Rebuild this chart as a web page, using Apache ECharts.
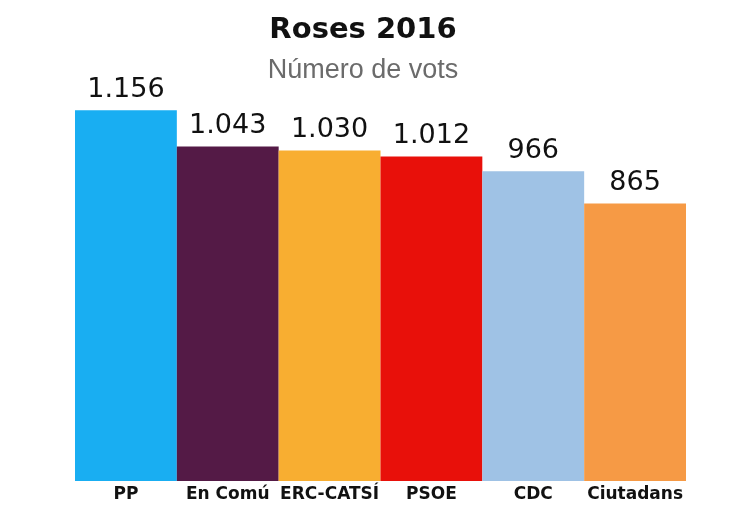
<!DOCTYPE html>
<html>
<head>
<meta charset="utf-8">
<script src="https://cdn.jsdelivr.net/npm/echarts@6/dist/echarts.min.js"></script>
<style>
  html, body { margin: 0; padding: 0; background: #fff; }
  #chart { width: 752px; height: 506px; }
</style>
</head>
<body>
<div id="chart"></div>
<script>
  // prettier-ignore
  let partits = ['PP', 'En Comú', 'ERC-CATSÍ', 'PSOE', 'CDC', 'Ciutadans'];
  // prettier-ignore
  let vots = [1156, 1043, 1030, 1012, 966, 865];
  // prettier-ignore
  let colors = ['#19aef2', '#541a46', '#f8ae31', '#e8100a', '#9fc2e5', '#f69a45'];

  function punts(v) {
    return String(v).replace(/\B(?=(\d{3})+(?!\d))/g, '.');
  }

  let chart = echarts.init(document.getElementById('chart'));
  let option = {
    animation: false,
    title: {
      text: 'Roses 2016',
      subtext: 'Número de vots',
      left: 358,
      textAlign: 'center',
      top: 11,
      itemGap: 12,
      textStyle: {
        fontFamily: 'DejaVu Sans',
        fontWeight: 'bold',
        fontSize: 29,
        color: '#111',
      },
      subtextStyle: {
        fontFamily: 'Liberation Sans',
        fontSize: 27,
        color: '#6b6b6b',
      },
    },
    grid: {
      left: 75,
      right: 66,
      top: 64,
      bottom: 25,
    },
    xAxis: {
      type: 'category',
      data: partits,
      axisLine: { show: false },
      axisTick: { show: false },
      axisLabel: {
        margin: 5,
        fontFamily: 'DejaVu Sans',
        fontWeight: 'bold',
        fontSize: 17,
        color: '#111',
        interval: 0,
      },
    },
    yAxis: {
      type: 'value',
      min: 0,
      max: 1300,
      show: false,
      splitLine: { show: false },
    },
    series: [
      {
        type: 'bar',
        barCategoryGap: 0,
        data: vots.map(function (v, i) {
          return { value: v, itemStyle: { color: colors[i] } };
        }),
        label: {
          show: true,
          position: 'top',
          distance: 7,
          fontFamily: 'DejaVu Sans',
          fontSize: 27,
          color: '#111',
          formatter: function (p) {
            return punts(p.value);
          },
        },
      },
    ],
  };
  chart.setOption(option);
</script>
</body>
</html>
